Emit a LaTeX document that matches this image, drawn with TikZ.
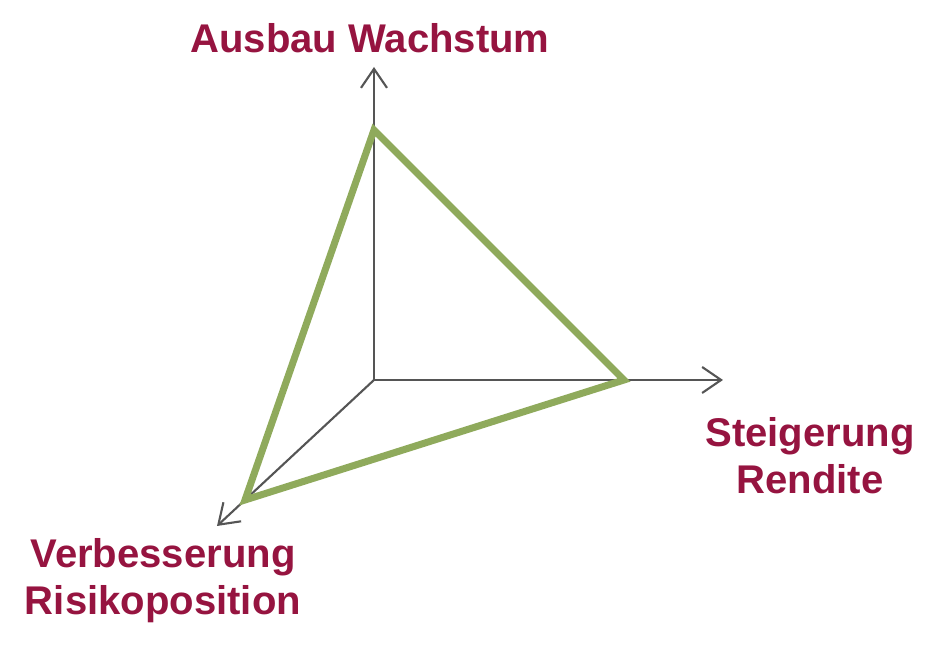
\documentclass[tikz,border=0pt]{standalone}
\usepackage{fontspec}
\setmainfont{Liberation Sans}
\usetikzlibrary{arrows.meta, positioning, calc}
\definecolor{axislabelred}{RGB}{150, 20, 64}
\definecolor{axisgray}{RGB}{85, 85, 85}
\definecolor{profilegreen}{RGB}{143, 170, 92}

\begin{document}
\begin{tikzpicture}[
    axis/.style={line width=0.6pt, axisgray, -{Straight Barb[length=1.9mm, width=2.6mm]}},
    profile/.style={line width=2pt, profilegreen, line join=miter},
    axislabel/.style={align=center, text=axislabelred, font=\fontsize{11.4}{13.4}\selectfont\bfseries}
]
    % Bounding box
    \useasboundingbox (0,0) rectangle (9.4,6.53);

    % Axes
    \coordinate (origin) at (3.74,2.73);
    \coordinate (growthtip) at (3.74,5.86);
    \coordinate (returntip) at (7.23,2.73);
    \coordinate (risktip) at (2.17,1.27);
    \draw[axis] (origin) -- (growthtip);
    \draw[axis] (origin) -- (returntip);
    \draw[axis] (origin) -- (risktip);

    % Profile triangle
    \coordinate (growth) at (3.74,5.23);
    \coordinate (return) at (6.24,2.73);
    \coordinate (risk) at (2.45,1.53);
    \draw[profile] (growth) -- (return) -- (risk) -- cycle;

    % Labels
    \node[axislabel] (growthlabel) at (3.70,6.15) {Ausbau Wachstum};
    \node[axislabel] (returnlabel) at (8.10,1.97) {Steigerung\\Rendite};
    \node[axislabel] (risklabel) at (1.63,0.72) {Verbesserung\\Risikoposition};
\end{tikzpicture}
\end{document}
